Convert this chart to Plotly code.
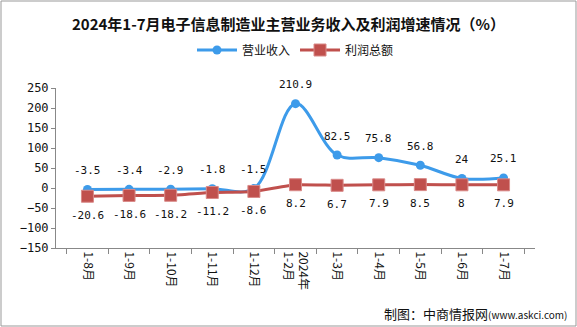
import plotly.graph_objects as go

categories = ["1-8月", "1-9月", "1-10月", "1-11月", "1-12月", "2024年<br>1-2月",
              "1-3月", "1-4月", "1-5月", "1-6月", "1-7月"]
revenue = [-3.5, -3.4, -2.9, -1.8, -1.5, 210.9, 82.5, 75.8, 56.8, 24, 25.1]
profit = [-20.6, -18.6, -18.2, -11.2, -8.6, 8.2, 6.7, 7.9, 8.5, 8, 7.9]
rev_labels = ["-3.5", "-3.4", "-2.9", "-1.8", "-1.5", "210.9", "82.5", "75.8", "56.8", "24", "25.1"]
prof_labels = ["-20.6", "-18.6", "-18.2", "-11.2", "-8.6", "8.2", "6.7", "7.9", "8.5", "8", "7.9"]
yticks = [-150, -100, -50, 0, 50, 100, 150, 200, 250]

W, H = 577, 327
ml, mr, mt, mb = 56, 42, 88, 79
pw, ph = W - ml - mr, H - mt - mb

lab_font = dict(family="DejaVu Sans Mono, Noto Sans CJK SC", size=11, color="#111")

fig = go.Figure()
fig.add_trace(go.Scatter(
    x=categories, y=revenue, name="营业收入", mode="lines+markers",
    line=dict(color="#3d9bea", width=3, shape="spline", smoothing=1.0),
    marker=dict(symbol="circle", size=9, color="#3d9bea"),
))
fig.add_trace(go.Scatter(
    x=categories, y=profit, name="利润总额", mode="lines+markers",
    line=dict(color="#c0504d", width=3, shape="spline", smoothing=0.4),
    marker=dict(symbol="square", size=12, color="#c0504d", line=dict(color="#d98a88", width=1)),
))

for c, v, t in zip(categories, revenue, rev_labels):
    fig.add_annotation(x=c, y=v, text=t, showarrow=False, yshift=19,
                       xanchor="center", yanchor="middle", font=lab_font)
for c, v, t in zip(categories, profit, prof_labels):
    fig.add_annotation(x=c, y=v, text=t, showarrow=False, yshift=-19,
                       xanchor="center", yanchor="middle", font=lab_font)

fig.update_layout(
    width=W, height=H,
    margin=dict(l=ml, r=mr, t=mt, b=mb),
    paper_bgcolor="white", plot_bgcolor="white",
    font=dict(family="Noto Sans CJK SC", size=12, color="#111"),
    title=dict(text="<b>2024年1-7月电子信息制造业主营业务收入及利润增速情况（%）</b>",
               x=0.5, xanchor="center", y=1 - 25 / H, yanchor="middle",
               font=dict(family="Noto Sans CJK SC", size=15, color="#111")),
    legend=dict(orientation="h", x=0.5, xanchor="center", y=1 + 38 / ph, yanchor="middle",
                font=dict(size=12, color="#111"), itemwidth=40, bgcolor="rgba(0,0,0,0)"),
    showlegend=True,
    xaxis=dict(type="category", showline=True, linecolor="#888", linewidth=1,
               ticks="outside", tickson="boundaries", ticklen=5, tickcolor="#888",
               tickangle=90, tickfont=dict(family="Noto Sans CJK SC", size=12, color="#111"),
               showgrid=False, zeroline=False),
    yaxis=dict(range=[-150, 250], tickvals=yticks, showline=True, linecolor="#888",
               linewidth=1, ticks="outside", ticklen=4, tickcolor="#888",
               tickfont=dict(family="DejaVu Sans Mono", size=12, color="#111"),
               showgrid=False, zeroline=False),
)

# outer frame
fig.add_shape(type="rect", xref="paper", yref="paper",
              x0=-(ml - 1) / pw, x1=1 + (mr - 1) / pw,
              y0=-(mb - 1) / ph, y1=1 + (mt - 1) / ph,
              line=dict(color="#999", width=1))

# footer
fig.add_annotation(xref="paper", yref="paper", x=1 + (mr - 8) / pw, y=-(313 - mt - ph) / ph,
                   xanchor="right", yanchor="middle", showarrow=False,
                   text="制图：中商情报网<span style='font-size:10px'>(www.askci.com)</span>",
                   font=dict(family="Noto Sans CJK SC", size=13, color="#111"))

fig.write_html("out.html")
